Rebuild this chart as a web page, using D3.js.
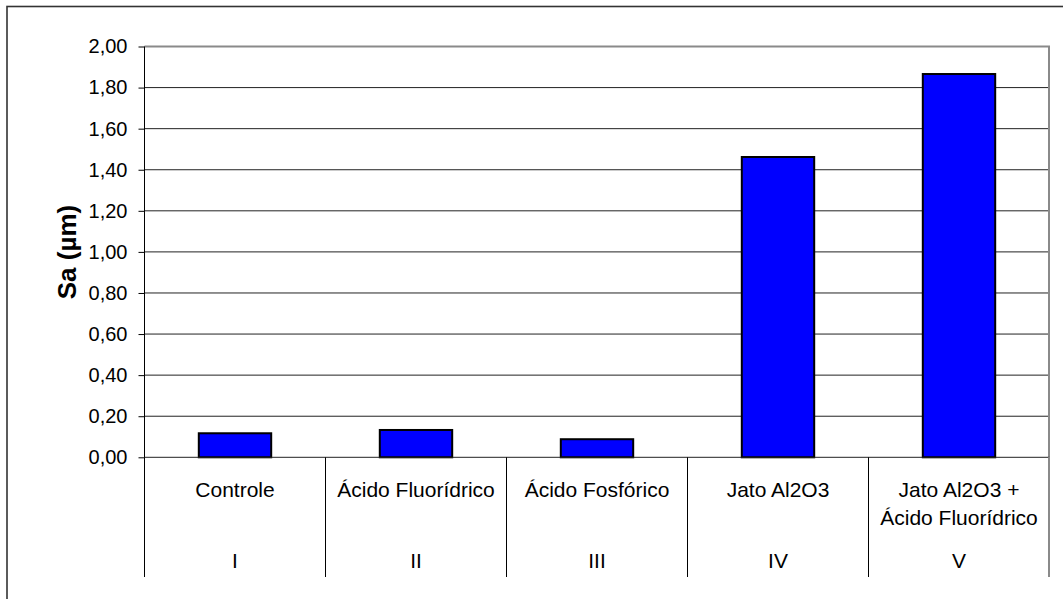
<!DOCTYPE html>
<html><head><meta charset="utf-8">
<script src="https://cdn.jsdelivr.net/npm/d3@7"></script>
<style>body{margin:0;background:#fff}svg{display:block}text{font-family:"Liberation Sans",Arial,sans-serif}</style>
</head><body>
<svg id="c" width="1063" height="599"></svg>
<script>
const categories = ["Controle", "Ácido Fluorídrico", "Ácido Fosfórico", "Jato Al2O3", "Jato Al2O3 +\nÁcido Fluorídrico"];
const groups = ["I", "II", "III", "IV", "V"];
const values = [0.117, 0.133, 0.088, 1.462, 1.866];
const yTicks = [0, 0.2, 0.4, 0.6, 0.8, 1.0, 1.2, 1.4, 1.6, 1.8, 2.0];
const yTitle = "Sa (µm)";

const svg = d3.select("#c");
const L = 144.5, R = 1049.5, T = 46.5, B = 457.3, axisBottom = 577;

// outer frame
svg.append("rect").attr("x", 7).attr("y", 6.5).attr("width", 1080).attr("height", 620)
  .attr("fill", "none").attr("stroke", "#333").attr("stroke-width", 1.6);

const x = d3.scaleBand().domain(categories).range([L, R]).padding(0);
const y = d3.scaleLinear().domain([0, 2]).range([B, T]);

// gridlines
svg.append("g").selectAll("line").data(yTicks.filter(d => d > 0 && d < 2)).join("line")
  .attr("x1", L).attr("x2", R).attr("y1", d => y(d)).attr("y2", d => y(d))
  .attr("stroke", "#222").attr("stroke-width", 1);

// plot border top/right gray
svg.append("path").attr("d", `M${L},${y(2)}H${R - 0.5}V${B}`)
  .attr("fill", "none").attr("stroke", "#8a8a8a").attr("stroke-width", 2);

// bars
const bw = x.bandwidth() * 0.4;
svg.append("g").selectAll("rect").data(values).join("rect")
  .attr("x", (d, i) => x(categories[i]) + (x.bandwidth() - bw) / 2)
  .attr("y", d => y(d)).attr("width", bw).attr("height", d => y(0) - y(d))
  .attr("fill", "#0000ff").attr("stroke", "#000").attr("stroke-width", 2);

// y axis
const yAxis = d3.axisLeft(y).tickValues(yTicks).tickSize(6).tickPadding(11)
  .tickFormat(d => d3.format(".2f")(d).replace(".", ","));
const ga = svg.append("g").attr("transform", `translate(${L},0)`).call(yAxis);
ga.select(".domain").remove();
ga.selectAll(".tick line").attr("stroke", "#000");
ga.selectAll("text").attr("font-size", 20).attr("fill", "#000")
  .attr("font-family", '"Liberation Sans",Arial,sans-serif');
svg.append("line").attr("x1", L).attr("x2", L).attr("y1", T).attr("y2", axisBottom).attr("stroke", "#000");

// baseline
svg.append("line").attr("x1", L).attr("x2", R).attr("y1", y(0)).attr("y2", y(0)).attr("stroke", "#222");

// category separators
svg.append("g").selectAll("line").data(categories.slice(1)).join("line")
  .attr("x1", d => x(d)).attr("x2", d => x(d)).attr("y1", y(0)).attr("y2", axisBottom)
  .attr("stroke", "#000");
svg.append("line").attr("x1", R - 0.5).attr("x2", R - 0.5).attr("y1", y(0)).attr("y2", axisBottom)
  .attr("stroke", "#8a8a8a").attr("stroke-width", 2);

// category labels
const cl = svg.append("g").selectAll("text").data(categories).join("text")
  .attr("x", d => x(d) + x.bandwidth() / 2).attr("y", 496.5)
  .attr("text-anchor", "middle").attr("font-size", 21).attr("fill", "#000");
cl.each(function(d) {
  const lines = d.split("\n");
  const t = d3.select(this);
  const x0 = +t.attr("x");
  lines.forEach((s, i) => t.append("tspan").attr("x", x0).attr("dy", i === 0 ? 0 : 28.5).text(s));
});
svg.append("g").selectAll("text").data(groups).join("text")
  .attr("x", (d, i) => x(categories[i]) + x.bandwidth() / 2).attr("y", 568.3)
  .attr("text-anchor", "middle").attr("font-size", 21).attr("fill", "#000").text(d => d);

// y title
svg.append("text").attr("transform", `translate(76,252) rotate(-90)`)
  .attr("text-anchor", "middle").attr("font-size", 26).attr("font-weight", "bold").attr("fill", "#000")
  .text(yTitle);
</script>
</body></html>
